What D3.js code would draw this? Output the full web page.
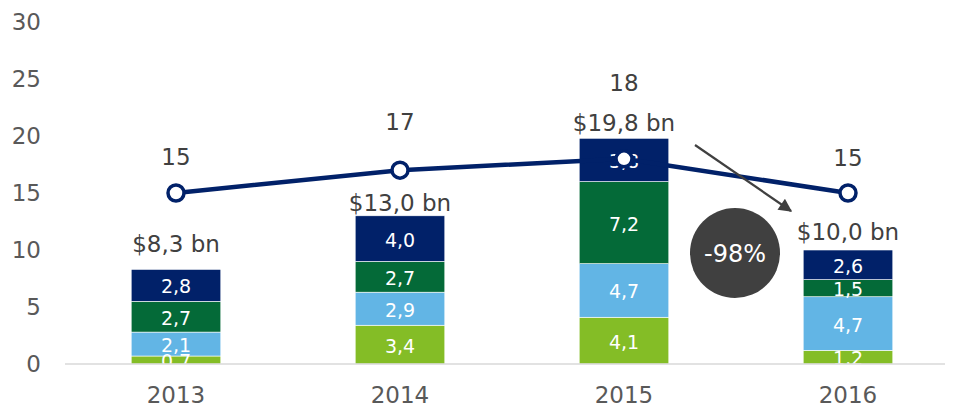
<!DOCTYPE html>
<html>
<head>
<meta charset="utf-8">
<script src="https://cdn.jsdelivr.net/npm/d3@7"></script>
<style>
  html, body { margin: 0; padding: 0; background: #fff; }
  svg { display: block; font-family: Verdana, "DejaVu Sans", sans-serif; }
</style>
</head>
<body>
<svg id="chart" width="957" height="407"></svg>
<script>
// ---- data ----
const years = ["2013", "2014", "2015", "2016"];
const seriesNames = ["s1", "s2", "s3", "s4"]; // bottom → top
const s1 = [0.7, 3.4, 4.1, 1.2];   // lime green
const s2 = [2.1, 2.9, 4.7, 4.7];   // light blue
const s3 = [2.7, 2.7, 7.2, 1.5];   // dark green
const s4 = [2.8, 4.0, 3.8, 2.6];   // navy
const totals = [8.3, 13.0, 19.8, 10.0];
const totalLabels = ["$8,3 bn", "$13,0 bn", "$19,8 bn", "$10,0 bn"];
const lineValues = [15, 17, 18, 15];
const yTicks = [0, 5, 10, 15, 20, 25, 30];
// label anchor heights, in data units
const totalLabelAt = [10.5, 14.1, 21.1, 11.6];
const lineLabelAt = [18.15, 21.2, 24.65, 18.1];
const badgeText = "-98%";

const colors = ["#84BD26", "#62B5E5", "#046A38", "#012169"];

const svg = d3.select("#chart");
const x = d3.scaleBand().domain(years).range([64, 960]).paddingInner(0.6).paddingOuter(0.3);
const y = d3.scaleLinear().domain([0, 30]).range([364, 22]);

// y tick labels
svg.append("g").selectAll("text").data(yTicks).join("text")
  .attr("x", 41).attr("y", d => y(d))
  .attr("text-anchor", "end").attr("dominant-baseline", "central")
  .attr("font-size", 23).attr("fill", "#595959")
  .text(d => d);

// stacked bars
const rows = years.map((yr, i) => ({ year: yr, s1: s1[i], s2: s2[i], s3: s3[i], s4: s4[i] }));
const stack = d3.stack().keys(seriesNames)(rows);
const gBars = svg.append("g");
stack.forEach((layer, li) => {
  gBars.append("g").selectAll("rect").data(layer).join("rect")
    .attr("x", d => x(d.data.year))
    .attr("width", x.bandwidth())
    .attr("y", d => y(d[1]))
    .attr("height", d => y(d[0]) - y(d[1]))
    .attr("fill", colors[li])
    .attr("stroke", "#ffffff").attr("stroke-width", 0.6);
});
stack.forEach((layer, li) => {
  gBars.append("g").selectAll("text").data(layer).join("text")
    .attr("x", d => x(d.data.year) + x.bandwidth() / 2)
    .attr("y", d => (y(d[0]) + y(d[1])) / 2 + 1)
    .attr("text-anchor", "middle").attr("dominant-baseline", "central")
    .attr("font-size", 19).attr("fill", "#ffffff")
    .text(d => (Math.round((d[1] - d[0]) * 10) / 10).toFixed(1).replace(".", ","));
});

// baseline
svg.append("line").attr("x1", 65).attr("x2", 945).attr("y1", y(0)).attr("y2", y(0))
  .attr("stroke", "#d9d9d9").attr("stroke-width", 1.5);

// x labels
svg.append("g").selectAll("text").data(years).join("text")
  .attr("x", d => x(d) + x.bandwidth() / 2).attr("y", 395)
  .attr("text-anchor", "middle").attr("dominant-baseline", "central")
  .attr("font-size", 23).attr("fill", "#595959")
  .text(d => d);

// total labels
svg.append("g").selectAll("text").data(years).join("text")
  .attr("x", d => x(d) + x.bandwidth() / 2).attr("y", (d, i) => y(totalLabelAt[i]))
  .attr("text-anchor", "middle").attr("dominant-baseline", "central")
  .attr("font-size", 23).attr("fill", "#404040")
  .text((d, i) => totalLabels[i]);

// line
const cx = d => x(d) + x.bandwidth() / 2;
const line = d3.line().x((d, i) => cx(years[i])).y(d => y(d));
svg.append("path").datum(lineValues).attr("d", line)
  .attr("fill", "none").attr("stroke", "#012169").attr("stroke-width", 4.5);
svg.append("g").selectAll("circle").data(lineValues).join("circle")
  .attr("cx", (d, i) => cx(years[i])).attr("cy", d => y(d)).attr("r", 8)
  .attr("fill", "#ffffff").attr("stroke", "#012169").attr("stroke-width", 3.5);
svg.append("g").selectAll("text").data(lineValues).join("text")
  .attr("x", (d, i) => cx(years[i])).attr("y", (d, i) => y(lineLabelAt[i]))
  .attr("text-anchor", "middle").attr("dominant-baseline", "central")
  .attr("font-size", 23).attr("fill", "#404040")
  .text(d => d);

// arrow
const defs = svg.append("defs");
defs.append("marker").attr("id", "arr").attr("viewBox", "0 0 10 10")
  .attr("refX", 9).attr("refY", 5).attr("markerWidth", 7.5).attr("markerHeight", 6)
  .attr("orient", "auto").attr("markerUnits", "strokeWidth")
  .append("path").attr("d", "M0,0 L10,5 L0,10 z").attr("fill", "#404040");
svg.append("line").attr("x1", 695).attr("y1", 145).attr("x2", 791).attr("y2", 211)
  .attr("stroke", "#404040").attr("stroke-width", 2.2).attr("marker-end", "url(#arr)");

// badge
svg.append("circle").attr("cx", 735).attr("cy", 253).attr("r", 45).attr("fill", "#404040");
svg.append("text").attr("x", 735).attr("y", 254)
  .attr("text-anchor", "middle").attr("dominant-baseline", "central")
  .attr("font-size", 24).attr("fill", "#ffffff").text(badgeText);
</script>
</body>
</html>
